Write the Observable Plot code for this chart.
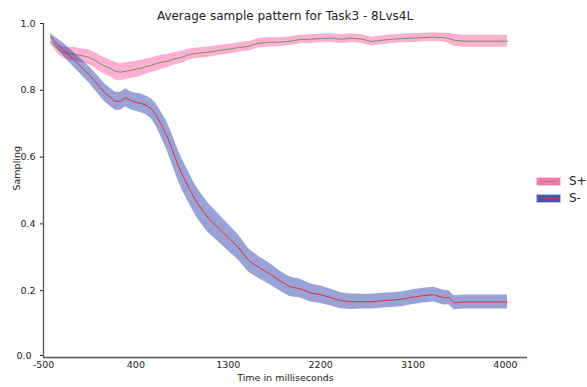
<!DOCTYPE html>
<html>
<head>
<meta charset="utf-8">
<script src="https://cdn.jsdelivr.net/npm/d3@7"></script>
<script src="https://cdn.jsdelivr.net/npm/@observablehq/plot@0.6"></script>
<style>
  html, body { margin: 0; padding: 0; background: #fff; }
  #wrap { position: relative; width: 587px; height: 387px; font-family: "DejaVu Sans", sans-serif; }
  #title { position: absolute; left: 43px; width: 484px; top: 9px; text-align: center; font-size: 12px; color: #222; white-space: nowrap; }
  .leg { position: absolute; left: 537px; display: flex; align-items: center; font-size: 12px; color: #222; }
  .patch { width: 23px; height: 7px; position: relative; margin-right: 9px; }
  .patch i { position: absolute; left: 3px; right: 3px; top: 3px; height: 1px; }
  svg { position: absolute; left: 0; top: 0; }
</style>
</head>
<body>
<div id="wrap">
  <div id="chart"></div>
  <div id="title"></div>
  <div id="legend"></div>
</div>
<script>
const titleText = "Average sample pattern for Task3 - 8Lvs4L";
const xLabel = "Time in milliseconds";
const yLabel = "Sampling";
const seriesNames = ["S+", "S-"];
const xTicks = [-500, 400, 1300, 2200, 3100, 4000];
const yTicksUpper = [0.2, 0.4, 0.6, 0.8, 1.0];
const yTicksZero = [0];

const times = [-430,-400,-350,-300,-250,-200,-150,-100,-50,0,50,100,150,200,250,300,350,400,450,500,550,600,650,700,750,800,850,900,950,1000,1100,1200,1300,1400,1500,1600,1700,1800,1900,2000,2100,2200,2300,2400,2500,2600,2700,2800,2900,3000,3100,3200,3300,3400,3450,3500,3600,3700,3800,3900,4020];

const sPlusMean = [0.944,0.935,0.920,0.912,0.909,0.908,0.905,0.902,0.898,0.890,0.880,0.872,0.866,0.857,0.854,0.857,0.860,0.863,0.866,0.871,0.875,0.880,0.884,0.887,0.892,0.896,0.899,0.905,0.909,0.911,0.914,0.919,0.923,0.928,0.932,0.941,0.944,0.944,0.947,0.952,0.953,0.955,0.956,0.953,0.956,0.953,0.946,0.950,0.953,0.955,0.956,0.958,0.959,0.958,0.955,0.950,0.947,0.947,0.947,0.947,0.947];

const sPlusErr = [0.006,0.010,0.014,0.017,0.019,0.020,0.020,0.021,0.022,0.023,0.024,0.025,0.025,0.026,0.026,0.025,0.025,0.024,0.024,0.023,0.022,0.022,0.021,0.020,0.019,0.018,0.018,0.017,0.016,0.016,0.016,0.015,0.015,0.014,0.014,0.014,0.014,0.013,0.013,0.013,0.013,0.013,0.013,0.013,0.013,0.013,0.013,0.013,0.013,0.013,0.013,0.013,0.013,0.013,0.016,0.018,0.018,0.018,0.018,0.018,0.018];

const sMinusMean = [0.962,0.950,0.935,0.920,0.905,0.890,0.875,0.860,0.845,0.827,0.809,0.791,0.779,0.767,0.767,0.778,0.769,0.764,0.761,0.755,0.745,0.725,0.695,0.665,0.626,0.584,0.548,0.518,0.488,0.461,0.419,0.389,0.359,0.329,0.290,0.269,0.251,0.230,0.212,0.206,0.194,0.188,0.179,0.170,0.167,0.167,0.167,0.170,0.172,0.175,0.181,0.185,0.188,0.179,0.179,0.164,0.166,0.166,0.166,0.166,0.166];

const sMinusErr = [0.008,0.012,0.016,0.019,0.021,0.022,0.023,0.024,0.025,0.026,0.027,0.027,0.027,0.027,0.027,0.027,0.027,0.027,0.028,0.028,0.030,0.034,0.038,0.042,0.045,0.046,0.046,0.046,0.045,0.045,0.044,0.042,0.040,0.038,0.035,0.033,0.032,0.030,0.029,0.028,0.027,0.026,0.025,0.024,0.023,0.022,0.022,0.022,0.022,0.022,0.022,0.022,0.022,0.022,0.021,0.021,0.021,0.021,0.021,0.021,0.021];

const bandColors = ["#ff5fa8", "#2a3fa8"];
const bandOpacity = [0.5, 0.48];
const lineColors = ["#6a9a55", "#e0303a"];
const legendPatch = ["#f47aae", "#4b55ad"];
const legendLine = ["#a08070", "#c8304a"];

const plusData = times.map((t, i) => ({t, m: sPlusMean[i], e: sPlusErr[i]}));
const minusData = times.map((t, i) => ({t, m: sMinusMean[i], e: sMinusErr[i]}));

const chart = Plot.plot({
  width: 587,
  height: 387,
  marginLeft: 43,
  marginRight: 60,
  marginTop: 23,
  marginBottom: 30,
  style: {fontFamily: "DejaVu Sans, sans-serif", fontSize: "9.5px", color: "#222", background: "transparent"},
  x: {domain: [-500, 4215]},
  y: {domain: [0, 1]},
  marks: [
    Plot.areaY(plusData, {x: "t", y1: d => d.m - d.e, y2: d => d.m + d.e, fill: bandColors[0], fillOpacity: bandOpacity[0]}),
    Plot.lineY(plusData, {x: "t", y: "m", stroke: lineColors[0], strokeWidth: 1}),
    Plot.areaY(minusData, {x: "t", y1: d => d.m - d.e, y2: d => d.m + d.e, fill: bandColors[1], fillOpacity: bandOpacity[1]}),
    Plot.lineY(minusData, {x: "t", y: "m", stroke: lineColors[1], strokeWidth: 1}),
    Plot.axisX({ticks: xTicks, tickFormat: d => String(d), tickSize: 0, tickPadding: 4, label: null}),
    Plot.axisY({ticks: yTicksUpper, tickFormat: d => d.toFixed(1), tickSize: 3, tickPadding: 5, label: null}),
    Plot.axisY({ticks: yTicksZero, tickFormat: d => d.toFixed(1), tickSize: 3, tickPadding: 9, dy: -2, label: null}),
    Plot.text([xLabel], {frameAnchor: "bottom", dy: 23, fontSize: 9.5, fill: "#222"}),
    Plot.text([yLabel], {frameAnchor: "left", dx: -27, rotate: -90, fontSize: 9.5, fill: "#222"}),
    Plot.ruleX([-500], {stroke: "#555", strokeWidth: 1.3}),
    Plot.ruleY([0], {stroke: "#555", strokeWidth: 1.3})
  ]
});
document.getElementById("chart").appendChild(chart);
document.getElementById("title").textContent = titleText;

const legend = document.getElementById("legend");
const legTops = [177, 194];
seriesNames.forEach((name, i) => {
  const row = document.createElement("div");
  row.className = "leg";
  row.style.top = (legTops[i] - 3) + "px";
  const p = document.createElement("div");
  p.className = "patch";
  p.style.background = legendPatch[i];
  p.style.outline = "1px solid " + bandColors[i] + "55";
  const ln = document.createElement("i");
  ln.style.background = legendLine[i];
  p.appendChild(ln);
  const label = document.createElement("span");
  label.textContent = name;
  row.appendChild(p);
  row.appendChild(label);
  legend.appendChild(row);
});
</script>
</body>
</html>
